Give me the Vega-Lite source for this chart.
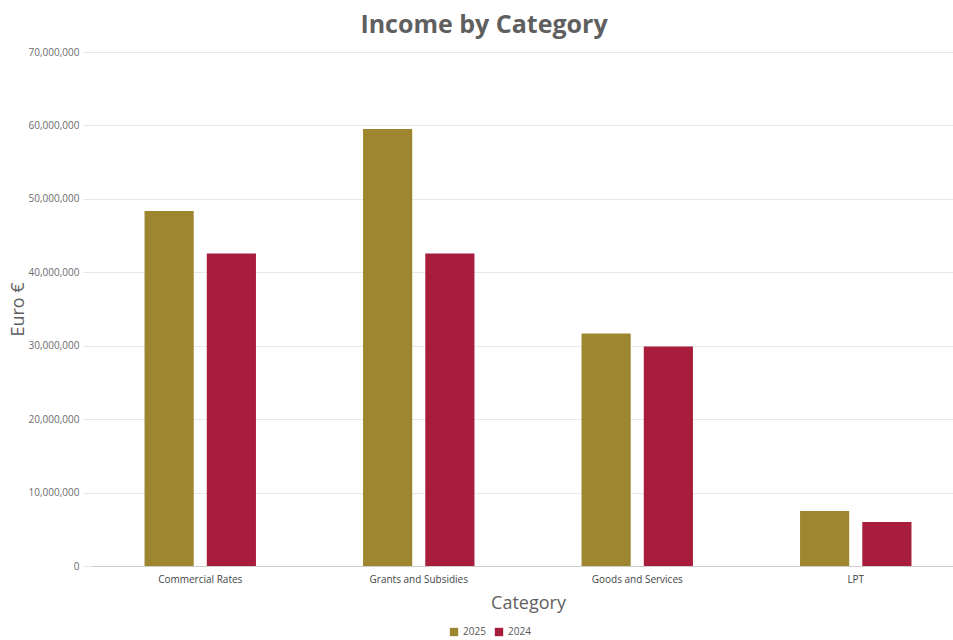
{
  "$schema": "https://vega.github.io/schema/vega-lite/v6.json",
  "width": 874,
  "height": 514,
  "autosize": {"type": "none"},
  "padding": {"left": 91, "top": 52, "right": 0, "bottom": 74},
  "background": "white",
  "title": {
    "text": "Income by Category",
    "fontSize": 25,
    "font": "Open Sans",
    "fontWeight": "bold",
    "color": "#5f5f5f",
    "anchor": "middle",
    "dx": -44,
    "offset": 9
  },
  "data": {
    "values": [
      {"Category": "Commercial Rates", "Year": "2025", "Value": 48350000},
      {"Category": "Commercial Rates", "Year": "2024", "Value": 42550000},
      {"Category": "Grants and Subsidies", "Year": "2025", "Value": 59500000},
      {"Category": "Grants and Subsidies", "Year": "2024", "Value": 42550000},
      {"Category": "Goods and Services", "Year": "2025", "Value": 31660000},
      {"Category": "Goods and Services", "Year": "2024", "Value": 29900000},
      {"Category": "LPT", "Year": "2025", "Value": 7490000},
      {"Category": "LPT", "Year": "2024", "Value": 5990000}
    ]
  },
  "mark": {"type": "bar"},
  "encoding": {
    "x": {
      "field": "Category",
      "type": "nominal",
      "sort": null,
      "scale": {"paddingInner": 0.49, "paddingOuter": 0.245},
      "axis": {
        "title": "Category",
        "titleFont": "Open Sans",
        "titleFontSize": 18,
        "titleFontWeight": "normal",
        "titleColor": "#5f5f5f",
        "titlePadding": 10,
        "labelFont": "Open Sans",
        "labelFontSize": 10,
        "labelColor": "#444444",
        "labelAngle": 0,
        "labelPadding": 8,
        "ticks": false,
        "domainColor": "#cccccc",
        "grid": false
      }
    },
    "xOffset": {
      "field": "Year",
      "type": "nominal",
      "sort": ["2025", "2024"],
      "scale": {"paddingInner": 0.21, "paddingOuter": 0}
    },
    "y": {
      "field": "Value",
      "type": "quantitative",
      "scale": {"domain": [0, 70000000], "nice": false},
      "axis": {
        "title": "Euro €",
        "titleFont": "Open Sans",
        "titleFontSize": 18,
        "titleFontWeight": "normal",
        "titleColor": "#5f5f5f",
        "titlePadding": 1,
        "labelFont": "Open Sans",
        "labelFontSize": 10,
        "labelColor": "#6b6b6b",
        "labelPadding": 4,
        "labelOverlap": false,
        "format": ",.0f",
        "values": [0, 10000000, 20000000, 30000000, 40000000, 50000000, 60000000, 70000000],
        "ticks": true,
        "tickSize": 8,
        "tickColor": "#e6e6e6",
        "domain": false,
        "gridColor": "#e8e8e8"
      }
    },
    "color": {
      "field": "Year",
      "type": "nominal",
      "sort": ["2025", "2024"],
      "scale": {"domain": ["2025", "2024"], "range": ["#9e8630", "#a81d3b"]},
      "legend": {
        "orient": "none",
        "legendX": 358,
        "legendY": 575,
        "direction": "horizontal",
        "title": null,
        "symbolType": "square",
        "symbolSize": 70,
        "symbolStrokeWidth": 0,
        "labelFont": "Open Sans",
        "labelFontSize": 10,
        "labelColor": "#555555",
        "columnPadding": 8
      }
    }
  },
  "config": {"view": {"stroke": null}}
}
